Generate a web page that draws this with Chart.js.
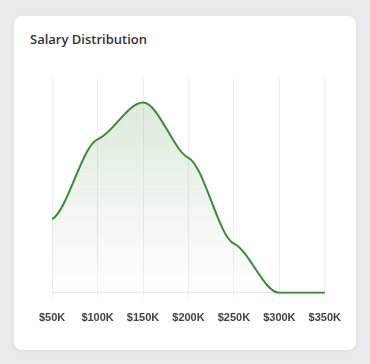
<!DOCTYPE html>
<html>
<head>
  <meta charset="UTF-8">
  <script src="https://cdn.jsdelivr.net/npm/chart.js"></script>
  <title>Salary Distribution</title>
  <style>
    body {
      margin: 0;
      background: #e9eaed;
      width: 370px;
      height: 364px;
      overflow: hidden;
    }
    .card {
      position: absolute;
      left: 14px;
      top: 16px;
      width: 342px;
      height: 334px;
      background: #fff;
      border-radius: 8px;
      box-shadow: 0 1px 4px rgba(0, 0, 0, 0.06);
    }
    .card h3 {
      position: absolute;
      left: 16px;
      top: 14px;
      margin: 0;
      font-family: "Open Sans", sans-serif;
      font-size: 13px;
      font-weight: 600;
      color: #333;
    }
    .grafico {
      position: absolute;
      left: 11px;
      top: 50px;
      width: 330px;
      height: 273px;
    }
  </style>
</head>
<body>
  <div class="card">
    <h3>Salary Distribution</h3>
    <div class="grafico">
      <canvas id="myChart"></canvas>
    </div>
  </div>

<script>
  const labels = ['$50K', '$100K', '$150K', '$200K', '$250K', '$300K', '$350K'];
  const valores = [12, 25, 31, 22, 8, 0, 0];

  const verde = 'rgb(60, 137, 58)';
  // quanto da inclinacao media fica em cada ponto (curva com "ombros")
  const suavidade = 0.3;

  // curva hermite com tangentes achatadas nos pontos
  const curvaSuave = {
    id: 'curvaSuave',
    beforeDraw(chart) {
      chart.data.datasets.forEach(function (ds, i) {
        const meta = chart.getDatasetMeta(i);
        meta.dataset.updateControlPoints(chart.chartArea, 'x');
        const pts = meta.data;
        const n = pts.length;
        const m = [];
        for (let k = 0; k < n; k++) {
          const a = pts[k - 1], b = pts[k], c = pts[k + 1];
          const s0 = a ? (b.y - a.y) / (b.x - a.x) : null;
          const s1 = c ? (c.y - b.y) / (c.x - b.x) : null;
          let t;
          if (s0 === null) t = s1;
          else if (s1 === null) t = s0;
          else if (Math.sign(s0) !== Math.sign(s1)) t = 0;
          else t = (s0 + s1) / 2;
          m.push(t * suavidade);
        }
        for (let k = 0; k < n; k++) {
          const p = pts[k];
          const hAnt = k > 0 ? p.x - pts[k - 1].x : 0;
          const hProx = k < n - 1 ? pts[k + 1].x - p.x : 0;
          p.cp1x = p.x - hAnt / 3;
          p.cp1y = p.y - m[k] * hAnt / 3;
          p.cp2x = p.x + hProx / 3;
          p.cp2y = p.y + m[k] * hProx / 3;
        }
      });
    }
  };

  const data = {
    labels: labels,
    datasets: [{
      data: valores,
      borderColor: verde,
      borderWidth: 2,
      pointRadius: 0,
      tension: 0.4,
      fill: 'origin',
      backgroundColor: function (context) {
        const area = context.chart.chartArea;
        if (!area) return 'rgba(60, 137, 58, 0.15)';
        const g = context.chart.ctx.createLinearGradient(0, area.top, 0, area.bottom);
        g.addColorStop(0, 'rgba(60, 137, 58, 0.2)');
        g.addColorStop(1, 'rgba(60, 137, 58, 0)');
        return g;
      }
    }]
  };

  const config = {
    type: 'line',
    data: data,
    plugins: [curvaSuave],
    options: {
      responsive: true,
      maintainAspectRatio: false,
      animation: false,
      layout: { padding: { top: 12, left: 0, right: 0, bottom: 0 } },
      plugins: {
        legend: { display: false },
        tooltip: { enabled: false }
      },
      scales: {
        x: {
          grid: { color: '#eeeeee', tickLength: 5 },
          border: { color: '#e6e6e6' },
          ticks: {
            padding: 14,
            maxRotation: 0,
            color: '#444',
            font: { size: 11, weight: 'bold', family: '"Liberation Sans", Arial, sans-serif' }
          }
        },
        y: {
          display: false,
          beginAtZero: true
        }
      }
    }
  };

  const myChart = new Chart(document.getElementById('myChart'), config);
</script>
</body>
</html>
